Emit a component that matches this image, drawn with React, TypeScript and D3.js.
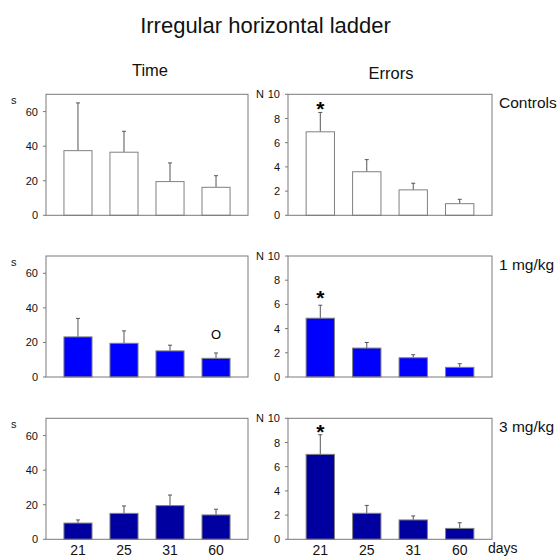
import React from "react";
import * as d3 from "d3";

// Test days (x categories) and treatment groups (rows)
const days = ["21", "25", "31", "60"];
const groups = ["Controls", "1 mg/kg", "3 mg/kg"];

// Time to cross the ladder (s): mean and SEM per group
const timeControls = [37.4, 36.5, 19.5, 16.2];
const timeControlsErr = [27.6, 12.1, 10.8, 6.7];
const time1mg = [23.2, 19.5, 15.1, 10.8];
const time1mgErr = [10.7, 7.2, 3.3, 3.1];
const time3mg = [9.4, 15.0, 19.5, 14.1];
const time3mgErr = [1.8, 4.3, 6.1, 3.3];

// Number of errors (N): mean and SEM per group
const errControls = [6.9, 3.6, 2.1, 0.96];
const errControlsErr = [1.6, 1.0, 0.55, 0.36];
const err1mg = [4.86, 2.39, 1.59, 0.8];
const err1mgErr = [1.07, 0.46, 0.25, 0.3];
const err3mg = [7.02, 2.15, 1.6, 0.9];
const err3mgErr = [1.62, 0.65, 0.33, 0.47];

// Axis ticks
const timeTicks = [0, 20, 40, 60];
const errTicks = [0, 2, 4, 6, 8, 10];

// Significance markers: group row, panel, day index, symbol, level (centre, data units)
const markers = [
  { row: 0, panel: "errors", day: 0, symbol: "*", level: 9.2 },
  { row: 1, panel: "errors", day: 0, symbol: "*", level: 6.9 },
  { row: 2, panel: "errors", day: 0, symbol: "*", level: 9.3 },
  { row: 1, panel: "time", day: 3, symbol: "O", level: 24.8 },
];

const timeMeans = [timeControls, time1mg, time3mg];
const timeErrs = [timeControlsErr, time1mgErr, time3mgErr];
const errMeans = [errControls, err1mg, err3mg];
const errErrs = [errControlsErr, err1mgErr, err3mgErr];

const fills = ["#ffffff", "#0000ff", "#0000a0"];
const FONT = "'Liberation Sans', Arial, Helvetica, sans-serif";
const W = 559;
const H = 558;

const rowTops = [94.3, 256, 418.3];
const panelH = 121;
const panelsX = {
  time: [46, 248],
  errors: [288, 492],
};

type PanelProps = {
  kind: "time" | "errors";
  row: number;
};

function Panel({ kind, row }: PanelProps) {
  const [x0, x1] = panelsX[kind];
  const top = rowTops[row];
  const bottom = top + panelH;
  const means = kind === "time" ? timeMeans[row] : errMeans[row];
  const errs = kind === "time" ? timeErrs[row] : errErrs[row];
  const ticks = kind === "time" ? timeTicks : errTicks;
  const y = d3
    .scaleLinear()
    .domain(kind === "time" ? [0, 70] : [0, 10])
    .range([bottom, top]);
  const x = d3.scaleBand<string>().domain(days).range([x0, x1]).padding(0.39);
  const bw = x.bandwidth();
  const frame = "#7a7a7a";

  return (
    <g>
      {/* bars with SEM whiskers */}
      {days.map((d, i) => {
        const bx = x(d)!;
        const cx = bx + bw / 2;
        const yt = y(means[i]);
        const ye = y(means[i] + errs[i]);
        return (
          <g key={d}>
            <line x1={cx} x2={cx} y1={yt} y2={ye} stroke="#555" strokeWidth={1} />
            <line x1={cx - 2} x2={cx + 2} y1={ye} y2={ye} stroke="#555" strokeWidth={1} />
            <rect
              x={bx}
              y={yt}
              width={bw}
              height={bottom - yt}
              fill={fills[row]}
              stroke="#808080"
              strokeWidth={1}
            />
          </g>
        );
      })}
      {/* frame */}
      <rect x={x0} y={top} width={x1 - x0} height={panelH} fill="none" stroke={frame} strokeWidth={1} />
      {/* y ticks */}
      {ticks.map((t) => (
        <g key={t}>
          <line x1={x0 - 3} x2={x0} y1={y(t)} y2={y(t)} stroke={frame} strokeWidth={1} />
          <text
            x={x0 - 8}
            y={y(t) + 4}
            textAnchor="end"
            fontSize={11}
            fontFamily={FONT}
            fill="#111"
          >
            {t}
          </text>
        </g>
      ))}
      {/* unit label */}
      {kind === "time" ? (
        <text x={11} y={top + 10} fontSize={11} fontFamily={FONT} fill="#111">
          s
        </text>
      ) : (
        <text x={256} y={top + 3.5} fontSize={11} fontFamily={FONT} fill="#111">
          N
        </text>
      )}
      {/* markers */}
      {markers
        .filter((m) => m.row === row && m.panel === kind)
        .map((m, k) => {
          const cx = x(days[m.day])! + bw / 2;
          const yc = y(m.level);
          const fs = m.symbol === "*" ? 21 : 13;
          const base = m.symbol === "*" ? yc + 0.56 * fs : yc + 0.36 * fs;
          return (
            <text
              key={k}
              x={cx}
              y={base}
              textAnchor="middle"
              fontSize={fs}
              fontWeight={m.symbol === "*" ? "bold" : "normal"}
              fontFamily={FONT}
              fill="#000"
            >
              {m.symbol}
            </text>
          );
        })}
      {/* x labels on the bottom row */}
      {row === groups.length - 1 &&
        days.map((d) => (
          <text
            key={d}
            x={x(d)! + bw / 2}
            y={555}
            textAnchor="middle"
            fontSize={14}
            fontFamily={FONT}
            fill="#111"
          >
            {d}
          </text>
        ))}
    </g>
  );
}

export default function App() {
  return (
    <svg
      width={W}
      height={H}
      style={{ position: "absolute", left: 0, top: 0, background: "#fff" }}
      fontFamily={FONT}
    >
      <rect x={0} y={0} width={W} height={H} fill="#fff" />
      <text x={265.5} y={33} textAnchor="middle" fontSize={22} fill="#111">
        Irregular horizontal ladder
      </text>
      <text x={150} y={76} textAnchor="middle" fontSize={16.5} fill="#111">
        Time
      </text>
      <text x={391} y={79} textAnchor="middle" fontSize={16.5} fill="#111">
        Errors
      </text>
      {groups.map((g, r) => (
        <g key={g}>
          <Panel kind="time" row={r} />
          <Panel kind="errors" row={r} />
          <text x={499} y={rowTops[r] + 14} fontSize={15.5} fill="#111">
            {g}
          </text>
        </g>
      ))}
      <text x={488} y={553} fontSize={14} fill="#111">
        days
      </text>
    </svg>
  );
}
